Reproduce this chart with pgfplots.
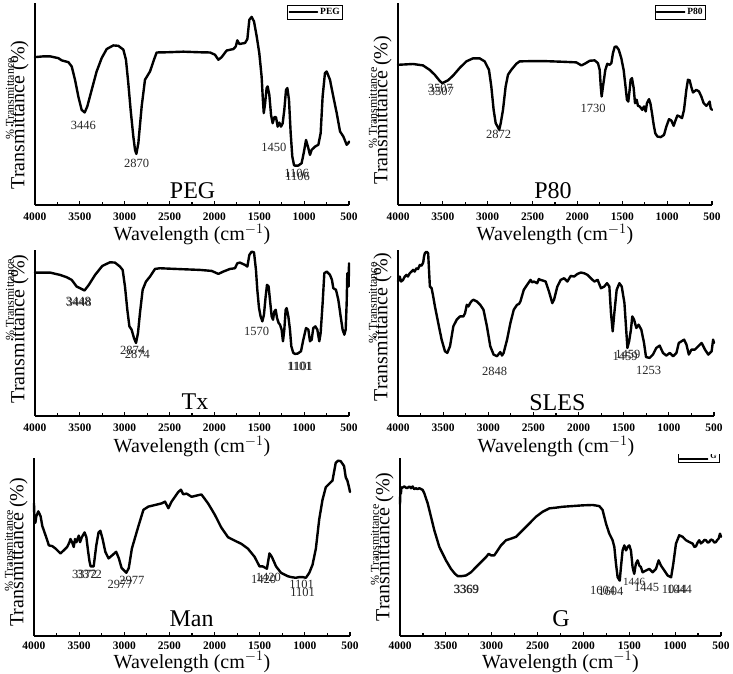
\documentclass[border=0pt]{standalone}
\usepackage{fontspec}
\setmainfont{Liberation Serif}
\usepackage{pgfplots}
\pgfplotsset{compat=1.18}

\pgfplotsset{
  ftir/.style={
    scale only axis,
    anchor=south west,
    x dir=reverse,
    xmin=500, xmax=4000,
    ymin=0, ymax=100,
    axis x line*=bottom,
    axis y line*=left,
    axis line style={line width=1.6pt},
    ytick=\empty,
    xtick={500,1000,...,4000},
    minor xtick={750,1250,...,3750},
    tick align=inside,
    major tick length=3.5pt,
    minor tick length=3pt,
    every tick/.style={line width=1.2pt, black},
    scaled x ticks=false,
    /pgf/number format/assume math mode=true,
    /pgf/number format/1000 sep={},
    xticklabel style={font=\fontsize{11.5}{12}\selectfont\bfseries, anchor=base, yshift=-16pt},
    xlabel={Wavelength (cm$^{-1}$)},
    xlabel style={font=\fontsize{20}{20}\selectfont, at={(axis description cs:0.5,0)}, anchor=base, yshift=-36pt},
    clip=false,
    legend style={draw=black, line width=0.6pt, inner sep=1pt, font=\fontsize{9.5}{10}\selectfont\bfseries, legend cell align=left},
    legend image code/.code={\draw[line width=1.6pt, black] (0pt,0pt) -- (28pt,0pt);},
  },
}
\tikzset{
  spec/.style={black, line width=2.4pt, line join=round, line cap=round, mark=none},
  peak/.style={font=\fontsize{12.5}{13}\selectfont, text=black!85, inner sep=0pt},
  bigy/.style={font=\fontsize{20}{20}\selectfont, rotate=90, anchor=center, inner sep=0pt},
  smally/.style={font=\fontsize{12}{12}\selectfont, rotate=90, anchor=center, inner sep=0pt},
  panel/.style={font=\fontsize{24}{24}\selectfont, anchor=base, inner sep=0pt},
}

\begin{document}
\begin{tikzpicture}
\path[use as bounding box] (0pt,0pt) rectangle (733pt,674pt);

% ---------------- PEG ----------------
\begin{axis}[ftir, at={(35pt,469pt)}, width=314pt, height=202pt,
  legend style={at={(axis description cs:0.981,0.99)}, anchor=north east}]
\addplot[spec] coordinates {
(4000,73.2) (3900,73.6) (3833,73.6) (3740,72.7) (3703,71.6) (3628,70.7) (3591,68.6)
(3554,62.0) (3517,53.7) (3480,47.1) (3446,45.8) (3417,48.8) (3368,57.0) (3313,66.1)
(3257,72.7) (3201,77.2) (3127,79.0) (3071,78.8) (3015,76.9) (2986,71.9) (2960,60.3)
(2934,47.1) (2904,33.9) (2885,27.3) (2870,25.3) (2848,30.6) (2811,48.8) (2774,62.0)
(2718,66.1) (2674,71.9) (2644,75.5) (2532,75.6) (2347,75.9) (2161,75.6) (2049,75.5)
(1994,74.4) (1956,71.9) (1919,73.2) (1863,76.5) (1788,77.2) (1762,78.5) (1745,81.5)
(1722,79.7) (1659,80.2) (1633,82.1) (1611,91.7) (1585,93.1) (1559,90.9) (1529,83.5)
(1500,75.2) (1474,63.6) (1460,52.1) (1450,45.5) (1436,50.0) (1418,57.9) (1407,58.7)
(1388,54.5) (1369,44.6) (1351,40.5) (1332,43.5) (1314,43.5) (1295,38.8) (1277,40.8)
(1258,38.8) (1239,40.5) (1221,47.1) (1202,57.0) (1187,57.9) (1169,52.1) (1150,35.5)
(1132,24.0) (1113,19.8) (1106,19.5) (1065,19.5) (1028,20.7) (1002,26.4) (979,32.2)
(953,28.1) (935,24.8) (916,27.3) (879,28.9) (842,29.8) (816,35.5) (794,53.7)
(768,65.3) (749,66.1) (712,62.0) (675,53.7) (637,45.5) (600,36.4) (563,33.9)
(526,29.8) (507,30.6) (500,31.4)
};
\legend{PEG}
\node[peak] at (axis cs:3461,39.2) {3446};
\node[peak] at (axis cs:2867,20.7) {2870};
\node[peak] at (axis cs:1336,28.4) {1450};
\node[peak] at (axis cs:1083,15.7) {1106};
\node[peak] at (axis cs:1072,14.0) {1106};
\node[panel] at (axis cs:2243,3.3) {PEG};
\node[bigy] at ([xshift=-15.5pt]axis description cs:0,0.446) {Transmittance (\%)};
\node[smally] at ([xshift=-25pt]axis description cs:0,0.525) {\% Transmittance};
\end{axis}

% ---------------- P80 ----------------
\begin{axis}[ftir, at={(398pt,469pt)}, width=314pt, height=202pt,
  legend style={at={(axis description cs:0.981,0.99)}, anchor=north east}]
\addplot[spec] coordinates {
(4000,69.4) (3833,69.8) (3721,69.1) (3647,66.9) (3591,64.5) (3536,61.5) (3507,60.3)
(3443,61.7) (3387,64.0) (3313,67.8) (3238,71.1) (3164,72.6) (3090,72.6) (3034,71.1)
(2986,66.9) (2960,58.7) (2934,47.1) (2911,40.5) (2890,38.8) (2872,37.2) (2855,40.5)
(2830,47.0) (2800,58.7) (2774,64.5) (2737,66.9) (2681,69.9) (2644,71.1) (2532,71.2)
(2347,71.2) (2161,70.9) (2012,70.6) (1956,69.1) (1919,69.9) (1863,71.4) (1808,71.6)
(1771,70.2) (1752,66.9) (1740,58.7) (1730,53.7) (1710,60.3) (1689,66.9) (1667,69.9)
(1641,69.4) (1622,70.2) (1604,75.2) (1585,78.2) (1566,78.5) (1540,76.9) (1511,72.7)
(1485,66.9) (1466,59.5) (1448,52.1) (1433,51.2) (1418,57.0) (1407,62.0) (1392,62.8)
(1373,57.9) (1358,50.4) (1340,52.1) (1325,49.1) (1306,48.8) (1277,47.1) (1258,48.8)
(1239,46.3) (1225,50.4) (1202,52.4) (1187,50.4) (1169,45.5) (1150,39.7) (1132,35.5)
(1109,33.9) (1072,33.6) (1035,34.7) (1009,38.8) (979,42.5) (953,41.8) (927,39.2)
(905,42.1) (886,44.3) (860,43.8) (834,43.0) (812,47.1) (786,57.0) (768,62.0)
(749,61.7) (730,58.3) (712,55.7) (675,57.0) (645,56.2) (619,53.7) (593,50.4)
(563,49.1) (537,50.4) (526,51.2) (515,47.9) (500,47.1)
};
\legend{P80}
\node[peak] at (axis cs:3528,57.9) {3507};
\node[peak] at (axis cs:3517,56.2) {3507};
\node[peak] at (axis cs:2878,34.7) {2872};
\node[peak] at (axis cs:1826,47.9) {1730};
\node[panel] at (axis cs:2272,3.3) {P80};
\node[bigy] at ([xshift=-15.5pt]axis description cs:0,0.47) {Transmittance (\%)};
\node[smally] at ([xshift=-25pt]axis description cs:0,0.48) {\% Transmittance};
\end{axis}

% ---------------- Tx ----------------
\begin{axis}[ftir, at={(35pt,258pt)}, width=314pt, height=166pt,
  xlabel style={yshift=-1pt}]
\addplot[spec] coordinates {
(4000,86.4) (3833,86.4) (3721,85.0) (3647,83.6) (3591,82.0) (3536,78.0) (3498,77.0)
(3448,75.6) (3400,79.0) (3330,85.0) (3250,90.4) (3164,92.6) (3108,92.4) (3053,90.0)
(3023,88.0) (2997,78.0) (2971,64.0) (2948,54.0) (2923,52.0) (2897,47.0) (2874,44.0)
(2852,50.0) (2830,62.0) (2800,76.0) (2763,81.0) (2718,84.0) (2662,88.6) (2607,89.0)
(2347,88.4) (2161,88.0) (2031,87.4) (1956,85.6) (1901,87.0) (1826,88.6) (1771,89.0)
(1745,92.0) (1715,92.4) (1659,91.0) (1633,90.0) (1611,97.0) (1585,99.0) (1559,98.6)
(1537,88.0) (1522,76.0) (1503,65.0) (1485,60.0) (1466,57.0) (1448,61.0) (1429,72.0)
(1414,79.0) (1396,78.0) (1381,70.0) (1362,60.0) (1347,58.0) (1332,63.0) (1317,64.0)
(1302,59.0) (1284,56.0) (1269,55.0) (1251,52.0) (1236,45.0) (1221,52.0) (1206,64.0)
(1195,65.0) (1176,60.0) (1158,52.0) (1143,42.0) (1121,38.0) (1101,37.4) (1072,37.6)
(1035,39.0) (1009,46.0) (979,53.0) (953,52.0) (935,45.0) (916,46.0) (898,53.0)
(875,54.0) (853,52.0) (831,45.0) (816,50.0) (794,68.0) (775,86.0) (749,87.0)
(712,85.0) (690,82.0) (675,77.0) (645,76.0) (619,70.0) (593,60.0) (571,52.0)
(552,49.0) (537,52.0) (526,68.0) (519,86.0) (511,86.0) (504,78.0) (500,92.0)
};
\node[peak] at (axis cs:3517,69.0) {3448};
\node[peak] at (axis cs:3507,68.4) {3448};
\node[peak] at (axis cs:2911,39.6) {2874};
\node[peak] at (axis cs:2859,37.0) {2874};
\node[peak] at (axis cs:1529,51.0) {1570};
\node[peak] at (axis cs:1054,30.0) {1101};
\node[peak] at (axis cs:1039,29.6) {1101};
\node[panel] at (axis cs:2216,4.0) {Tx};
\node[bigy] at ([xshift=-15.5pt]axis description cs:0,0.524) {Transmittance (\%)};
\node[smally] at ([xshift=-25pt]axis description cs:0,0.70) {\% Transmittance};
\end{axis}

% ---------------- SLES ----------------
\begin{axis}[ftir, at={(398pt,258pt)}, width=316pt, height=166pt,
  xlabel style={yshift=-1pt}]
\addplot[spec] coordinates {
(4000,81) (3990,83) (3981,84) (3965,81) (3944,82) (3925,84) (3907,85) (3890,84)
(3870,86) (3850,87) (3833,88) (3815,87) (3796,89) (3778,88.5) (3758,91) (3740,90.5)
(3721,92.4) (3712,96) (3703,98) (3684,99) (3666,98) (3647,78) (3628,77) (3610,72)
(3591,66) (3554,56) (3517,46) (3480,39) (3454,38) (3424,42) (3387,54) (3350,58)
(3313,60) (3275,60) (3257,62) (3238,67) (3220,66) (3201,68) (3180,69.5) (3164,70)
(3127,69) (3090,67) (3053,64) (3015,54) (2978,42) (2941,37) (2904,36) (2867,38.5)
(2848,36.4) (2830,38) (2792,46) (2755,56) (2718,64) (2681,67) (2660,67.5) (2644,69)
(2607,76) (2570,79) (2532,82) (2515,80.5) (2495,81) (2458,80) (2440,82.5) (2421,82)
(2390,81.5) (2365,81) (2328,75) (2291,68) (2272,70) (2235,78) (2198,82) (2161,83)
(2124,81) (2087,84.4) (2049,84) (2012,85.6) (1975,86.4) (1938,86) (1901,85)
(1864,83) (1826,81) (1789,82) (1752,77) (1715,78) (1685,80) (1659,78) (1641,62)
(1622,51) (1604,62) (1578,76) (1548,80) (1522,78) (1492,68) (1475,54) (1459,41)
(1440,45) (1420,52) (1405,60) (1385,58) (1360,53) (1335,55) (1305,52) (1275,44)
(1253,35.5) (1213,35) (1176,37) (1139,41) (1102,42.4) (1065,38) (1028,36.4) (990,38)
(953,36) (916,38) (890,44) (860,45) (831,46) (805,43) (779,37) (749,40) (712,40)
(675,42) (637,44) (600,40) (563,37) (526,39) (510,46) (500,44)
};
\node[peak] at (axis cs:2930,27.0) {2848};
\node[peak] at (axis cs:1455,37.0) {1459};
\node[peak] at (axis cs:1485,35.6) {1459};
\node[peak] at (axis cs:1225,27.6) {1253};
\node[panel] at (axis cs:2235,3.4) {SLES};
\node[bigy] at ([xshift=-15.5pt]axis description cs:0,0.536) {Transmittance (\%)};
\node[smally] at ([xshift=-25pt]axis description cs:0,0.68) {\%.Transmittance};
\end{axis}

% ---------------- Man ----------------
\begin{axis}[ftir, at={(34pt,38pt)}, width=316pt, height=178pt,
  xlabel style={yshift=4pt}, xticklabel style={yshift=2pt}]
\addplot[spec] coordinates {
(4000,74.5) (3995,63.6) (3985,63.6) (3974,67.3) (3952,70.0) (3927,67.3) (3908,61.8)
(3871,56.4) (3835,50.9) (3798,50.5) (3761,49.1) (3725,47.3) (3706,46.4) (3669,48.2)
(3633,50.0) (3607,52.7) (3596,54.5) (3578,52.7) (3560,50.0) (3545,54.5) (3530,52.7)
(3504,56.4) (3490,52.7) (3470,55.5) (3440,58.2) (3420,55.5) (3400,47.3) (3385,41.8)
(3372,39.1) (3339,39.1) (3310,50.9) (3285,58.2) (3265,59.1) (3240,54.5) (3210,47.3)
(3174,43.6) (3130,45.5) (3090,47.3) (3060,43.6) (3030,38.2) (2977,35.5) (2950,38.2)
(2916,49.1) (2843,61.8) (2788,70.9) (2733,72.7) (2659,73.6) (2586,74.5) (2549,75.5)
(2512,71.8) (2476,75.5) (2439,78.2) (2402,80.9) (2373,82.2) (2347,79.6) (2310,80.0)
(2255,78.2) (2182,79.1) (2145,79.5) (2072,74.5) (1998,68.2) (1925,60.9) (1851,55.5)
(1778,53.6) (1704,51.8) (1631,49.1) (1557,44.5) (1502,39.1) (1466,39.1) (1420,37.8)
(1392,46.4) (1366,44.5) (1319,39.1) (1264,35.5) (1190,33.6) (1153,33.1) (1101,32.7)
(1062,33.1) (1025,33.1) (988,32.7) (951,35.5) (915,40.0) (878,49.1) (841,65.5)
(805,76.4) (768,83.6) (731,85.5) (694,87.3) (658,97.3) (632,98.5) (603,98.2)
(566,95.5) (547,89.1) (529,87.3) (511,83.6) (500,80.9)
};
\node[peak] at (axis cs:3438,34.5) {3372};
\node[peak] at (axis cs:3387,34.5) {3372};
\node[peak] at (axis cs:3045,29.1) {2977};
\node[peak] at (axis cs:2916,31.3) {2977};
\node[peak] at (axis cs:1458,31.8) {1420};
\node[peak] at (axis cs:1403,32.7) {1420};
\node[peak] at (axis cs:1036,29.1) {1101};
\node[peak] at (axis cs:1025,24.5) {1101};
\node[panel] at (axis cs:2255,5.1) {Man};
\node[bigy] at ([xshift=-15.5pt]axis description cs:0,0.47) {Transmittance (\%)};
\node[smally] at ([xshift=-25pt]axis description cs:0,0.48) {\% Transmittance};
\end{axis}

% ---------------- G ----------------
\begin{axis}[ftir, at={(400pt,38pt)}, width=321pt, height=178pt,
  xlabel style={yshift=4pt}, xticklabel style={yshift=2pt},
  legend style={at={(axis description cs:0.995,0.972)}, anchor=south east,
    font=\fontsize{8}{8}\selectfont\bfseries, inner sep=0.5pt},
  legend image code/.code={\draw[line width=1.6pt, black] (0pt,-2pt) -- (28pt,-2pt);}]
\addplot[spec] coordinates {
(4000,74) (3995,84) (3990,80) (3985,83) (3953,84.0) (3925,83.0) (3898,84.0)
(3880,83.0) (3862,84.0) (3845,82.5) (3826,83.0) (3810,82.5) (3789,83.0) (3753,82.1)
(3735,80.2) (3698,74.5) (3662,67.0) (3626,59.4) (3571,50.0) (3499,42.5) (3444,37.7)
(3400,34.9) (3369,33.6) (3335,33.6) (3280,34.0) (3226,35.8) (3171,38.7) (3117,41.5)
(3062,44.3) (3033,46.2) (3008,45.3) (2972,45.3) (2935,48.1) (2899,50.9) (2844,53.8)
(2790,54.7) (2735,55.7) (2663,59.4) (2590,63.2) (2517,67.0) (2445,69.8) (2372,71.7)
(2299,72.1) (2227,72.6) (2118,73.0) (2009,73.4) (1900,73.6) (1827,73.0) (1791,70.8)
(1754,63.2) (1718,57.5) (1682,53.8) (1663,50.0) (1645,40.6) (1627,33.0) (1604,31.1)
(1591,38.7) (1573,48.1) (1554,50.9) (1536,48.1) (1518,50.0) (1500,50.9) (1482,48.1)
(1464,38.7) (1446,34.9) (1428,40.6) (1409,42.5) (1391,39.6) (1373,38.7) (1355,35.8)
(1318,36.8) (1282,37.7) (1245,35.8) (1209,37.7) (1180,42.5) (1155,39.6) (1118,36.8)
(1082,34.0) (1044,33.0) (1020,40.6) (991,51.9) (955,56.6) (918,55.7) (882,53.8)
(846,52.8) (809,51.9) (790,50.0) (773,50.4) (755,52.5) (737,53.8) (720,52.0)
(700,52.8) (680,54.0) (664,53.8) (645,52.5) (628,52.8) (610,54.2) (591,53.8)
(572,52.5) (555,52.8) (540,54.0) (526,54.7) (511,57.5) (500,55.7)
};
\legend{G}
\node[peak] at (axis cs:3280,26.4) {3369};
\node[peak] at (axis cs:3273,26.0) {3369};
\node[peak] at (axis cs:1790,25.5) {1604};
\node[peak] at (axis cs:1700,25.1) {1604};
\node[peak, font=\fontsize{11}{11}\selectfont] at (axis cs:1446,30.2) {1446};
\node[peak] at (axis cs:1311,27.4) {1445};
\node[peak] at (axis cs:1009,26.4) {1044};
\node[peak] at (axis cs:955,26.4) {1044};
\node[panel] at (axis cs:2245,5.1) {G};
\node[bigy] at ([xshift=-15.5pt]axis description cs:0,0.50) {Transmittance (\%)};
\node[smally] at ([xshift=-25pt]axis description cs:0,0.51) {\% Transmittance};
\end{axis}

% upper edge of the G legend box is trimmed off
\fill[white] (668pt,219.5pt) rectangle (728pt,236pt);
\end{tikzpicture}
\end{document}
